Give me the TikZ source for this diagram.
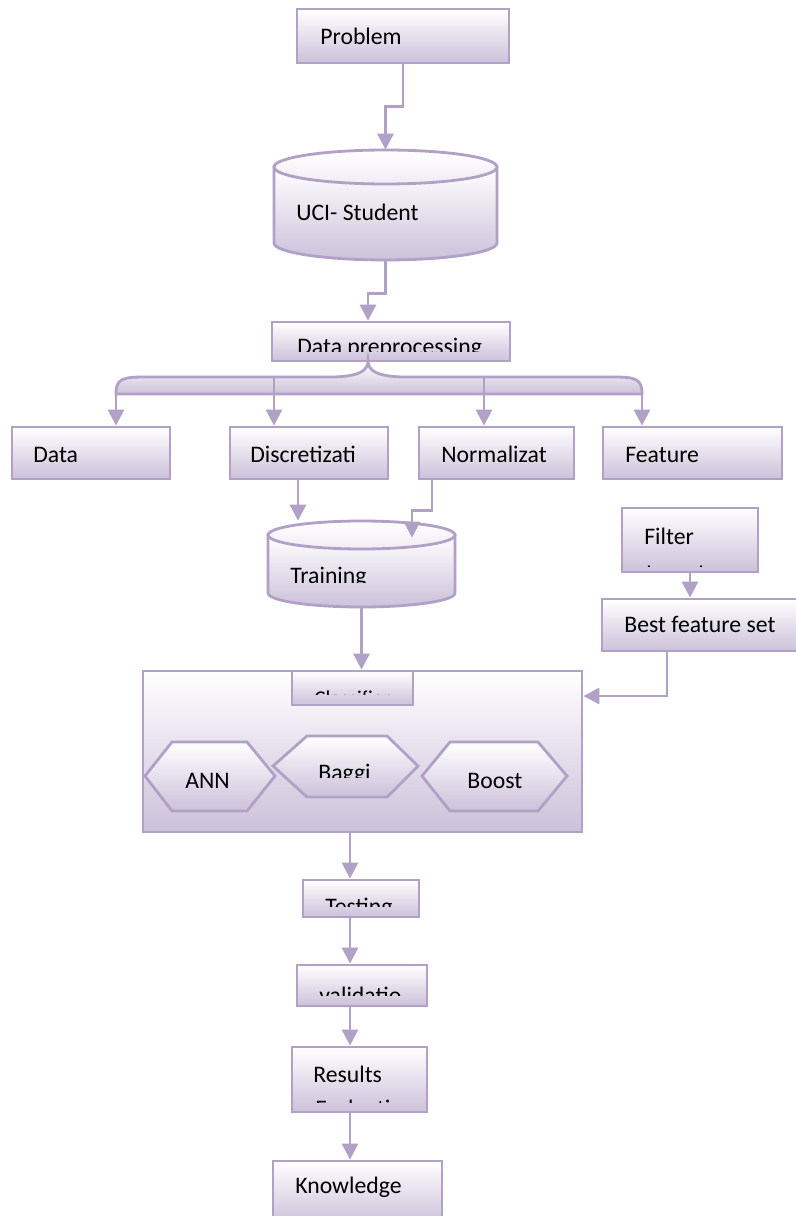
\documentclass[tikz,border=0pt]{standalone}
\usepackage{fontspec}
\setmainfont{Carlito}
\usetikzlibrary{arrows.meta,calc,positioning,fit}

\definecolor{lavline}{RGB}{178,161,199}
\definecolor{lavfill}{RGB}{204,193,218}

\begin{document}
\begin{tikzpicture}[x=0.02cm, y=-0.02cm,
  box/.style={draw=lavline, line width=1.6pt, top color=white, bottom color=lavfill, inner sep=0pt},
  cyl/.style={draw=lavline, line width=1.6pt, top color=white, bottom color=lavfill},
  lbl/.style={font=\fontsize{13.5}{16}\selectfont, inner sep=0pt, anchor=base west},
  arr/.style={draw=lavline, line width=1.6pt, -{Triangle[length=0.32cm,width=0.32cm]}}]
  \useasboundingbox (0,0) rectangle (795,1216);
  \fill[white] (0,0) rectangle (795,1216);

  % Define points
  \coordinate (bk) at (368,361);
  \coordinate (b1) at (116,394);
  \coordinate (b2) at (274,377);
  \coordinate (b3) at (484,377);
  \coordinate (b4) at (642,394);
  \coordinate (spine) at (350,0);

  % Top boxes
  \node[box, fit={(297,9) (509,63)}] (problem) {};
  \node[lbl] (problemtxt) at (320,45) {Problem};

  % UCI cylinder
  \draw[cyl] (274,167) -- (274,243) arc[start angle=180, end angle=360, x radius=2.23cm, y radius=0.34cm] -- (497,167) -- cycle;
  \draw[draw=lavline, line width=1.6pt, top color=white, bottom color=lavfill!30] (385.5,167) ellipse [x radius=2.23cm, y radius=0.34cm];
  \node[fit={(274,150) (497,260)}, inner sep=0pt] (uci) {};
  \node[lbl] (ucitxt) at (296,221) {UCI- Student};

  \node[box, fit={(272,322) (510,361)}] (prep) {};
  \begin{scope}
    \clip (272,322) rectangle (510,351);
    \node[lbl] (preptxt) at (297,355) {Data preprocessing};
  \end{scope}

  % Brace
  \draw[cyl] (b1) .. controls (116,379) and (122,377) .. (145,377) -- (330,377)
    .. controls (360,377) and (368,370) .. (bk) .. controls (368,370) and (376,377) .. (406,377)
    -- (613,377) .. controls (636,377) and (642,379) .. (b4) -- cycle;

  % Second row
  \node[box, fit={(12,427) (170,479)}] (data) {};
  \node[box, fit={(230,427) (388,479)}] (disc) {};
  \node[box, fit={(419,427) (574,479)}] (norm) {};
  \node[box, fit={(603,427) (782,479)}] (feat) {};
  \node[lbl] (datatxt) at (33,462) {Data};
  \node[lbl] (disctxt) at (250,462) {Discretizati};
  \node[lbl] (normtxt) at (441,462) {Normalizat};
  \node[lbl] (feattxt) at (625,462) {Feature};

  % Training cylinder
  \draw[cyl] (268,535) -- (268,593) arc[start angle=180, end angle=360, x radius=1.87cm, y radius=0.28cm] -- (455,535) -- cycle;
  \draw[draw=lavline, line width=1.6pt, top color=white, bottom color=lavfill!30] (361.5,535) ellipse [x radius=1.87cm, y radius=0.28cm];
  \node[fit={(268,521) (455,607)}, inner sep=0pt] (train) {};
  \begin{scope}
    \clip (268,521) rectangle (455,582);
    \node[lbl] (traintxt) at (290,583) {Training};
  \end{scope}

  % Feature selection
  \node[box, fit={(622,508) (758,572)}] (filter) {};
  \node[lbl] (filtertxt) at (644,544) {Filter};
  \begin{scope}
    \clip (622,508) rectangle (758,566);
    \node[lbl] (basedtxt) at (646,582) {based};
  \end{scope}
  \node[box, fit={(602,599) (797,651)}] (best) {};
  \node[lbl] (besttxt) at (624,632) {Best feature set};

  % Classifier block
  \node[box, fit={(143,671) (582,832)}] (cls) {};
  \node[box, fit={(292,671) (413,705)}] (clsbox) {};
  \begin{scope}
    \clip (292,671) rectangle (413,694);
    \node[lbl, font=\fontsize{12}{14}\selectfont] (clstxt) at (314,705) {Classifier};
  \end{scope}
  \draw[cyl] (145,776) -- (172,742) -- (247,742) -- (275,776) -- (247,811) -- (172,811) -- cycle;
  \draw[cyl] (273,766) -- (307,736) -- (387,736) -- (418,766) -- (387,797) -- (307,797) -- cycle;
  \draw[cyl] (422,776) -- (450,742) -- (538,742) -- (567,776) -- (538,811) -- (450,811) -- cycle;
  \node[lbl] (anntxt) at (185,788) {ANN};
  \begin{scope}
    \clip (273,736) rectangle (418,777);
    \node[lbl] (baggtxt) at (318,780) {Baggi};
  \end{scope}
  \node[lbl] (boosttxt) at (467,788) {Boost};

  % Bottom chain
  \node[box, fit={(303,880) (419,917)}] (test) {};
  \begin{scope}
    \clip (303,880) rectangle (419,906);
    \node[lbl] (testtxt) at (325,914) {Testing};
  \end{scope}
  \node[box, fit={(297,965) (427,1006)}] (valid) {};
  \begin{scope}
    \clip (297,965) rectangle (427,995);
    \node[lbl] (validtxt) at (319,1003) {validatio};
  \end{scope}
  \node[box, fit={(292,1047) (427,1112)}] (res) {};
  \node[lbl] (restxt) at (313,1082) {Results};
  \begin{scope}
    \clip (292,1047) rectangle (427,1102);
    \node[lbl] (evaltxt) at (315,1116) {Evaluation};
  \end{scope}
  \node[box, fit={(273,1161) (442,1224)}] (know) {};
  \node[lbl] (knowtxt) at (295,1193) {Knowledge};

  % Connectors
  \draw[arr] (problem.south) -- ++(0,42) -| (uci.north);
  \draw[arr] (uci.south) -- ++(0,33) -| (prep.north -| bk);
  \foreach \p/\q in {b1/data, b2/disc, b3/norm, b4/feat}
    \draw[arr] (\p) -- (\p |- \q.north);
  \coordinate (d1) at ([xshift=-0.22cm]disc.south);
  \coordinate (n1) at ([xshift=-1.29cm]norm.south);
  \coordinate (n2) at ([xshift=1.01cm,yshift=-0.34cm]train.north);
  \draw[arr] (d1) -- (d1 |- train.north);
  \draw[arr] (n1) -- ++(0,30) -| (n2);
  \draw[arr] (train.south) -- (train.south |- cls.north);
  \draw[arr] (filter.south) -- (filter.south |- best.north);
  \draw[arr] ([xshift=-0.65cm]best.south) |- ([yshift=1.11cm]cls.east);
  \foreach \a/\b in {cls/test, test/valid, valid/res, res/know}
    \draw[arr] (\a.south -| spine) -- (\b.north -| spine);

\end{tikzpicture}
\end{document}
